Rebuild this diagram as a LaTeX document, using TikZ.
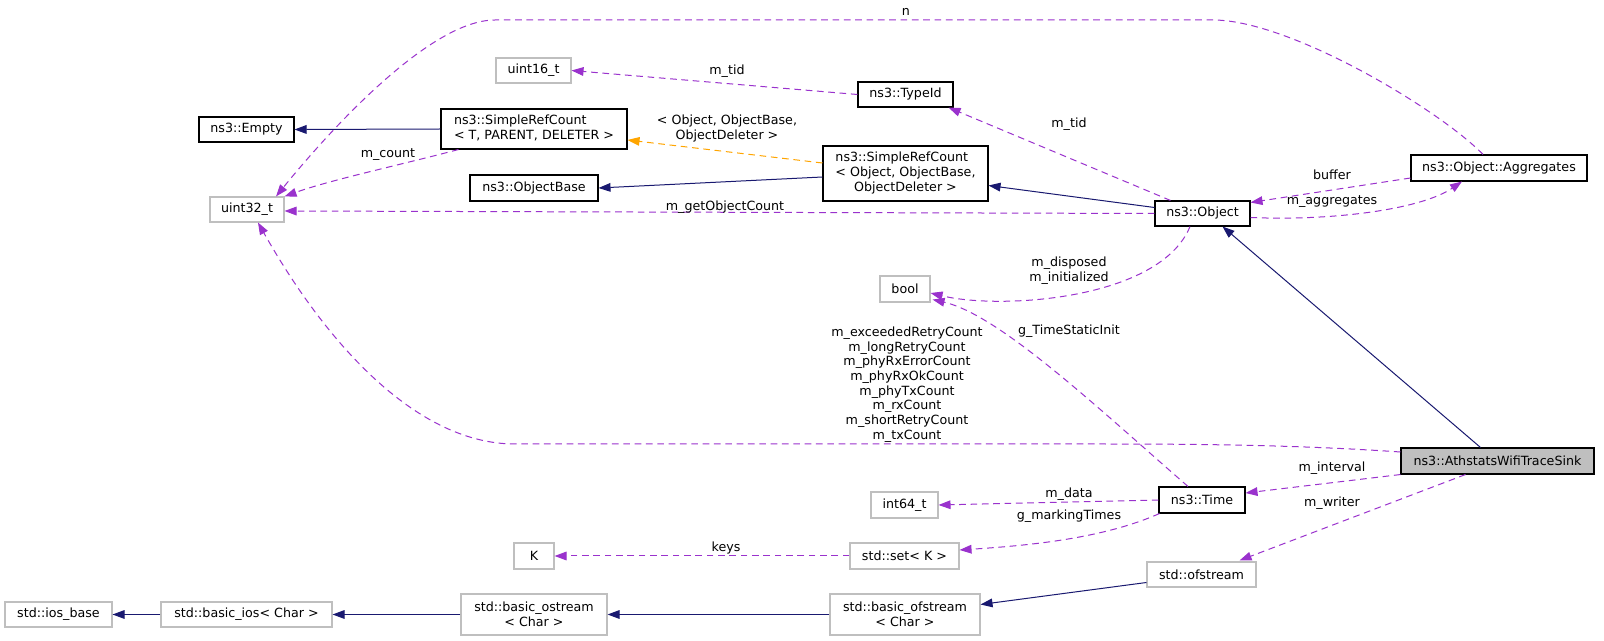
\documentclass[tikz,border=0pt]{standalone}
\usepackage{fontspec}
\setmainfont{DejaVu Sans}
\usetikzlibrary{arrows.meta}
\definecolor{navy}{HTML}{191970}
\definecolor{purp}{HTML}{9A32CD}
\definecolor{orng}{HTML}{FFA500}
\definecolor{gry}{HTML}{BFBFBF}
\def\pxl{0.75pt}
\tikzset{
  every node/.style={font=\fontsize{9.5}{11}\selectfont},
  cls/.style={draw=black, line width=0.8pt, inner sep=0pt, align=center},
  ext/.style={draw=gry, line width=0.8pt, inner sep=0pt, align=center},
  mainbox/.style={draw=black, fill=gry, line width=0.8pt, inner sep=0pt, align=center},
  tip/.style={-{Triangle[length=9pt,width=6.5pt]}},
  inh/.style={navy, line width=0.75pt, tip},
  use/.style={purp, line width=0.75pt, dash pattern=on 5pt off 3.5pt, tip},
  tmpl/.style={orng, line width=0.75pt, dash pattern=on 5pt off 3.5pt, tip},
  lbl/.style={align=center, inner sep=0pt}
}
\begin{document}
\begin{tikzpicture}[x=0.75pt,y=-0.75pt]
\useasboundingbox[fill=white] (0,0) rectangle (1604,641);
% nodes
\node[cls, minimum width=95*\pxl, minimum height=25*\pxl] (empty) at (246.5,129.5) {ns3::Empty};
\node[cls, minimum width=186*\pxl, minimum height=40*\pxl] (srcT) at (534,129) {\begin{tabular}{@{}l@{}}ns3::SimpleRefCount\\< T, PARENT, DELETER >\end{tabular}};
\node[ext, minimum width=75*\pxl, minimum height=25*\pxl] (u16) at (533.5,70.5) {uint16\_t};
\node[cls, minimum width=128*\pxl, minimum height=26*\pxl] (obase) at (534,188) {ns3::ObjectBase};
\node[ext, minimum width=74*\pxl, minimum height=25*\pxl] (u32) at (247,209.5) {uint32\_t};
\node[cls, minimum width=95*\pxl, minimum height=25*\pxl] (typeid) at (905.5,94.5) {ns3::TypeId};
\node[cls, minimum width=165*\pxl, minimum height=55*\pxl] (srcO) at (905.5,173.5) {\begin{tabular}{@{}l@{}}ns3::SimpleRefCount\\< Object, ObjectBase,\\\multicolumn{1}{@{}c@{}}{ObjectDeleter >}\end{tabular}};
\node[cls, minimum width=95*\pxl, minimum height=25*\pxl] (object) at (1202.5,213.5) {ns3::Object};
\node[cls, minimum width=176*\pxl, minimum height=26*\pxl] (aggr) at (1499,168) {ns3::Object::Aggregates};
\node[ext, minimum width=50*\pxl, minimum height=26*\pxl] (bool) at (905,289) {bool};
\node[mainbox, minimum width=193*\pxl, minimum height=26*\pxl] (aths) at (1497.5,461) {ns3::AthstatsWifiTraceSink};
\node[cls, minimum width=86*\pxl, minimum height=26*\pxl] (time) at (1202,500) {ns3::Time};
\node[ext, minimum width=67*\pxl, minimum height=26*\pxl] (int64) at (904.5,505) {int64\_t};
\node[ext, minimum width=109*\pxl, minimum height=26*\pxl] (setk) at (904.5,556) {std::set< K >};
\node[ext, minimum width=40*\pxl, minimum height=26*\pxl] (kk) at (534,556) {K};
\node[ext, minimum width=109*\pxl, minimum height=25*\pxl] (ofs) at (1201.5,574.5) {std::ofstream};
\node[ext, minimum width=150*\pxl, minimum height=41*\pxl] (bofs) at (905,614.5) {std::basic\_ofstream\\< Char >};
\node[ext, minimum width=146*\pxl, minimum height=41*\pxl] (bos) at (534,614.5) {std::basic\_ostream\\< Char >};
\node[ext, minimum width=171*\pxl, minimum height=25*\pxl] (bios) at (246.5,614.5) {std::basic\_ios< Char >};
\node[ext, minimum width=107*\pxl, minimum height=25*\pxl] (iosb) at (58.5,614.5) {std::ios\_base};
% inheritance edges
\draw[inh] (srcT.west) -- (empty.east);
\draw[inh] ([shift={(0,3.5)}]srcO.west) -- (obase.east);
\draw[inh] ([shift={(0,-6)}]object.west) -- ([shift={(0,12)}]srcO.east);
\draw[inh] ([shift={(-17,0)}]aths.north) -- ([shift={(20,0)}]object.south);
\draw[inh] ([shift={(0,8)}]ofs.west) -- ([shift={(0,-10)}]bofs.east);
\draw[inh] (bofs.west) -- (bos.east);
\draw[inh] (bos.west) -- (bios.east);
\draw[inh] (bios.west) -- (iosb.east);
% template edge
\draw[tmpl] ([shift={(0,-10.5)}]srcO.west) -- ([shift={(0,11)}]srcT.east);
\node[lbl] (lt) at (727,128.5) {< Object, ObjectBase,\\ObjectDeleter >};
% usage edges
\draw[use] ([shift={(18,0)}]srcT.south west) .. controls (400,165) and (330,180) .. (u32.north east);
\node[lbl] (lcount) at (388,155) {m\_count};
\draw[use] ([shift={(-16,0)}]aggr.north) .. controls (1440,110) and (1290,20) .. (1213,20) -- (495,20) .. controls (430,20) and (330,130) .. ([shift={(29,0)}]u32.north);
\node[lbl] (ln) at (906,12) {n};
\draw[use] (object.west) -- ([shift={(0,1.5)}]u32.east);
\node[lbl] (lgoc) at (725,207) {m\_getObjectCount};
\draw[use] (typeid.west) -- (u16.east);
\node[lbl] (ltid1) at (727,71) {m\_tid};
\draw[use] ([shift={(-32,0)}]object.north) -- ([shift={(-5,0)}]typeid.south east);
\node[lbl] (ltid2) at (1069,124) {m\_tid};
\draw[use] ([shift={(0,10)}]aggr.west) -- ([shift={(0,2)}]object.north east);
\node[lbl] (lbuf) at (1332,175) {buffer};
\draw[use] ([shift={(0,4)}]object.east) .. controls (1330,221) and (1420,210) .. ([shift={(-37,0)}]aggr.south);
\node[lbl] (lagg) at (1332,202) {m\_aggregates};
\draw[use] ([shift={(-12.5,0)}]object.south) .. controls (1160,300) and (1000,310) .. ([shift={(0,4)}]bool.east);
\node[lbl] (ldisp) at (1069,270.5) {m\_disposed\\m\_initialized};
\draw[use] ([shift={(-14,0)}]time.north) .. controls (1100,410) and (1000,315) .. ([shift={(2,-3)}]bool.south east);
\node[lbl] (lgts) at (1069,331) {g\_TimeStaticInit};
\draw[use] ([shift={(0,-9)}]aths.west) .. controls (1300,445) and (1200,444) .. (1100,444) -- (515,444) .. controls (420,444) and (330,350) .. ([shift={(11,0)}]u32.south);
\node[lbl] (lbig) at (907,384.5) {m\_exceededRetryCount\\m\_longRetryCount\\m\_phyRxErrorCount\\m\_phyRxOkCount\\m\_phyTxCount\\m\_rxCount\\m\_shortRetryCount\\m\_txCount};
\draw[use] (aths.south west) -- ([shift={(0,-7)}]time.east);
\node[lbl] (lint) at (1332,468) {m\_interval};
\draw[use] ([shift={(-32,0)}]aths.south) -- ([shift={(-17,-1)}]ofs.north east);
\node[lbl] (lwr) at (1332,503) {m\_writer};
\draw[use] (time.west) -- (int64.east);
\node[lbl] (ldata) at (1069,494) {m\_data};
\draw[use] ([shift={(1,0)}]time.south west) .. controls (1100,540) and (1020,546) .. ([shift={(0,-6)}]setk.east);
\node[lbl] (lmark) at (1069,516) {g\_markingTimes};
\draw[use] (setk.west) -- (kk.east);
\node[lbl] (lkeys) at (726,548) {keys};
\end{tikzpicture}
\end{document}
